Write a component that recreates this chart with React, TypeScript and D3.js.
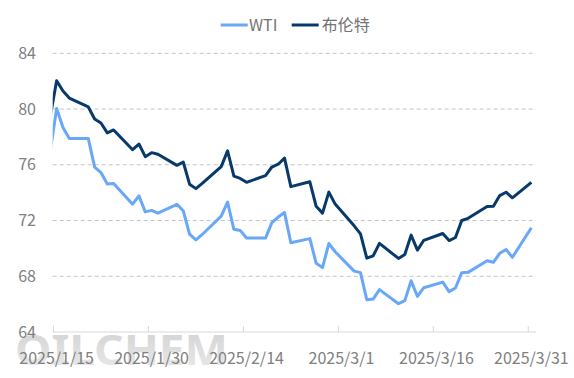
import React from "react";
import * as d3 from "d3";

const dates: string[] = [
  "2025-01-14", "2025-01-15", "2025-01-16", "2025-01-17", "2025-01-20", "2025-01-21", "2025-01-22",
  "2025-01-23", "2025-01-24", "2025-01-27", "2025-01-28", "2025-01-29", "2025-01-30", "2025-01-31",
  "2025-02-03", "2025-02-04", "2025-02-05", "2025-02-06", "2025-02-07", "2025-02-10", "2025-02-11",
  "2025-02-12", "2025-02-13", "2025-02-14", "2025-02-17", "2025-02-18", "2025-02-19", "2025-02-20",
  "2025-02-21", "2025-02-24", "2025-02-25", "2025-02-26", "2025-02-27", "2025-02-28",
  "2025-03-03", "2025-03-04", "2025-03-05", "2025-03-06", "2025-03-07", "2025-03-10", "2025-03-11",
  "2025-03-12", "2025-03-13", "2025-03-14", "2025-03-17", "2025-03-18", "2025-03-19", "2025-03-20",
  "2025-03-21", "2025-03-24", "2025-03-25", "2025-03-26", "2025-03-27", "2025-03-28", "2025-03-31",
];

const wti: number[] = [
  77.0, 80.04, 78.68, 77.88, 77.88, 75.83, 75.44, 74.62, 74.66, 73.17, 73.77, 72.62, 72.73, 72.53,
  73.16, 72.7, 71.03, 70.61, 71.0, 72.32, 73.32, 71.37, 71.29, 70.74, 70.74, 71.85, 72.25, 72.57,
  70.4, 70.7, 68.93, 68.62, 70.35, 69.76,
  68.37, 68.26, 66.31, 66.36, 67.04, 66.03, 66.25, 67.68, 66.55, 67.18, 67.58, 66.9, 67.16, 68.26,
  68.28, 69.11, 69.0, 69.65, 69.92, 69.36, 71.48,
];

const brent: number[] = [
  79.5, 82.03, 81.29, 80.79, 80.15, 79.29, 79.0, 78.29, 78.5, 77.08, 77.49, 76.58, 76.87, 76.76,
  75.96, 76.2, 74.61, 74.29, 74.66, 75.87, 77.0, 75.18, 75.02, 74.74, 75.22, 75.84, 76.04, 76.48,
  74.43, 74.78, 73.02, 72.53, 74.04, 73.18,
  71.62, 71.04, 69.3, 69.46, 70.36, 69.28, 69.56, 70.95, 69.88, 70.58, 71.07, 70.56, 70.78, 72.0,
  72.16, 73.0, 73.02, 73.79, 74.03, 73.63, 74.74,
];

const seriesNames: string[] = ["WTI", "布伦特"];
const yTicks: number[] = [64, 68, 72, 76, 80, 84];
const xTickDates: string[] = ["2025-01-15", "2025-01-30", "2025-02-14", "2025-03-01", "2025-03-16", "2025-03-31"];

const W = 574;
const H = 378;
const FONT = "'Noto Sans CJK SC', 'Noto Sans', sans-serif";
const COLORS = ["#69a7f9", "#073a6b"];

const parse = (s: string) => new Date(s + "T00:00:00Z");

export default function App() {
  const plotLeft = 52.7;
  const plotRight = 536;
  const x = d3
    .scaleUtc()
    .domain([new Date(Date.UTC(2025, 0, 14, 9)), new Date(Date.UTC(2025, 2, 31, 17, 30))])
    .range([plotLeft, plotRight]);
  const y = d3.scaleLinear().domain([64, 84]).range([332, 53.3]);

  const parsed = dates.map(parse);
  const line = d3
    .line<number>()
    .x((_, i) => x(parsed[i]))
    .y((v) => y(v));

  const series = [wti, brent];
  const fmt = (d: Date) => `${d.getUTCFullYear()}/${d.getUTCMonth() + 1}/${d.getUTCDate()}`;

  const legendItems = [
    { lx: 220.7, tx: 249 },
    { lx: 291.7, tx: 321.7 },
  ];

  return (
    <svg width={W} height={H} style={{ display: "block", position: "absolute", left: 0, top: 0 }} fontFamily={FONT}>
      <rect width={W} height={H} fill="#ffffff" />
      <defs>
        <clipPath id="plotClip">
          <rect x={plotLeft} y={0} width={plotRight - plotLeft} height={H} />
        </clipPath>
        <linearGradient id="wm" x1="0" y1="0" x2="0" y2="1">
          <stop offset="0%" stopColor="#cfcfcf" />
          <stop offset="100%" stopColor="#ececec" />
        </linearGradient>
      </defs>

      {/* watermark */}
      <text
        x={15}
        y={365}
        fontSize={41}
        fontWeight={700}
        fill="url(#wm)"
        textLength={213}
        lengthAdjust="spacingAndGlyphs"
        fontFamily="'Noto Sans', sans-serif"
      >
        OILCHEM
      </text>

      {/* gridlines */}
      {yTicks.filter((t) => t !== 64).map((t) => (
        <line
          key={t}
          x1={plotLeft}
          x2={plotRight}
          y1={y(t)}
          y2={y(t)}
          stroke="#c4c4c4"
          strokeWidth={1}
          strokeDasharray="4 3"
        />
      ))}

      {/* y labels */}
      {yTicks.map((t) => (
        <text key={t} x={36} y={y(t)} dy="0.35em" textAnchor="end" fontSize={16} fill="#808080">
          {t}
        </text>
      ))}

      {/* x axis */}
      <line x1={plotLeft} x2={plotRight} y1={y(64)} y2={y(64)} stroke="#d9d9d9" strokeWidth={1} />
      {xTickDates.map((s) => {
        const d = parse(s);
        const tx = x(new Date(d.getTime() - 12 * 3600 * 1000));
        return (
          <g key={s}>
            <line x1={tx} x2={tx} y1={y(64) - 6} y2={y(64)} stroke="#d9d9d9" strokeWidth={1} />
            <text x={x(d)} y={364} textAnchor="middle" fontSize={16} fill="#808080">
              {fmt(d)}
            </text>
          </g>
        );
      })}

      {/* lines */}
      <g clipPath="url(#plotClip)">
        {series.map((s, i) => (
          <path
            key={i}
            d={line(s) || ""}
            fill="none"
            stroke={COLORS[i]}
            strokeWidth={3}
            strokeLinejoin="round"
            strokeLinecap="butt"
          />
        ))}
      </g>

      {/* legend */}
      {seriesNames.map((n, i) => (
        <g key={n}>
          <line
            x1={legendItems[i].lx}
            x2={legendItems[i].lx + 27}
            y1={25}
            y2={25}
            stroke={COLORS[i]}
            strokeWidth={3}
          />
          <text x={legendItems[i].tx} y={25} dy="0.35em" fontSize={16} fill="#737373">
            {n}
          </text>
        </g>
      ))}
    </svg>
  );
}
